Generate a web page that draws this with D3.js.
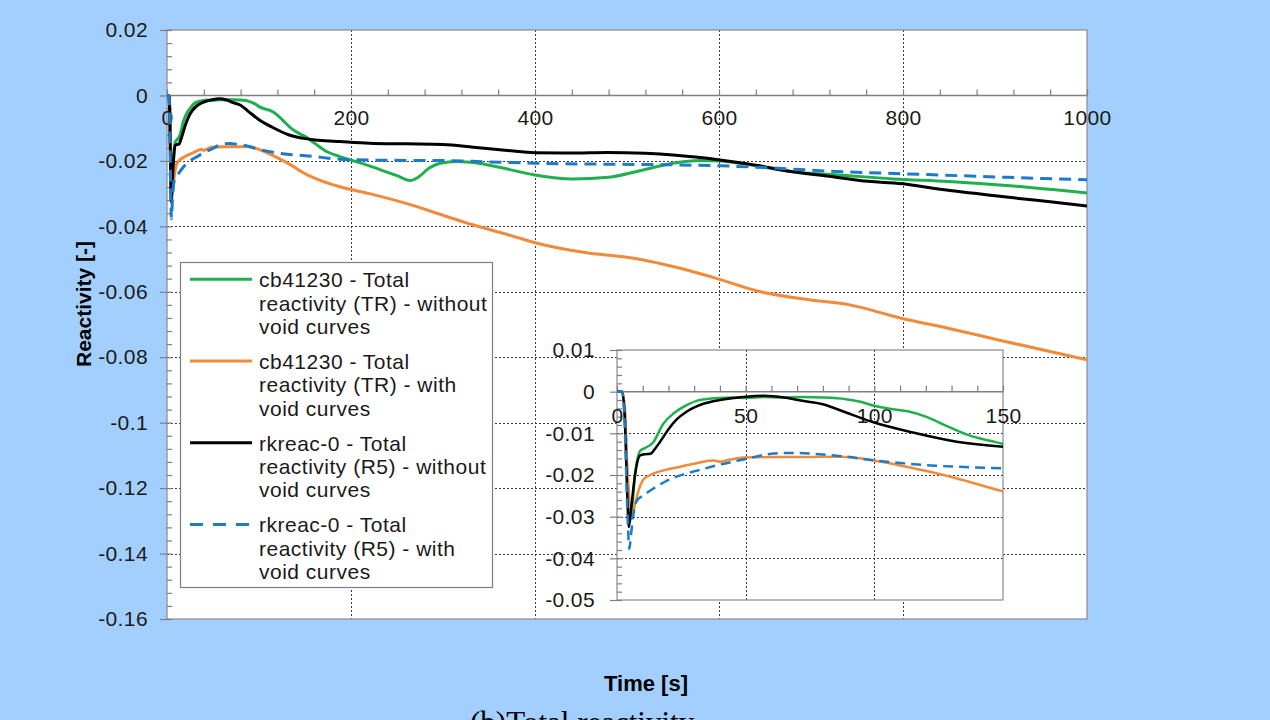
<!DOCTYPE html>
<html>
<head>
<meta charset="utf-8">
<script src="https://cdn.jsdelivr.net/npm/d3@7/dist/d3.min.js"></script>
<style>
  body { margin: 0; background: #a3cffe; }
  svg { display: block; font-family: "Liberation Sans", Arial, sans-serif; }
  .axis path { display: none; }
  .axis line { stroke: #7f7f7f; stroke-width: 1.2; }
  .axis text { fill: #1a1a1a; font-size: 21px; letter-spacing: 0.4px; }
</style>
</head>
<body>
<svg id="chart" width="1270" height="720"></svg>
<script>
// ---- data (time [s], reactivity [-]) ----
const seriesNames = [
  "cb41230 - Total reactivity (TR) - without void curves",
  "cb41230 - Total reactivity (TR) - with void curves",
  "rkreac-0 - Total reactivity (R5) - without void curves",
  "rkreac-0 - Total reactivity (R5) - with void curves"
];
const legendLines = [
  ["cb41230 - Total", "reactivity (TR) - without", "void curves"],
  ["cb41230 - Total", "reactivity (TR) - with", "void curves"],
  ["rkreac-0 - Total", "reactivity (R5) - without", "void curves"],
  ["rkreac-0 - Total", "reactivity (R5) - with", "void curves"]
];

const trWithout = [
  [0,0],[2,0],[3,-0.004],[4,-0.02],[5,-0.031],[6,-0.027],[7,-0.02],[9,-0.0142],[11,-0.0135],
  [14,-0.0122],[18,-0.0077],[22,-0.0052],[26,-0.0036],[31,-0.0022],[38,-0.0016],[45,-0.0014],
  [50,-0.0015],[57,-0.0013],[64,-0.0014],[72,-0.0013],[80,-0.0014],[89,-0.0018],[95,-0.0025],
  [100,-0.0034],[107,-0.0042],[113,-0.0047],[120,-0.006],[128,-0.0082],[136,-0.0103],[145,-0.0118],
  [150,-0.0125],[160,-0.0145],[174,-0.0172],[188,-0.0187],[200,-0.0198],[210,-0.0206],[230,-0.0225],
  [250,-0.0245],[264,-0.026],[273,-0.0250],[285,-0.0222],[297,-0.0207],[315,-0.0202],[340,-0.0208],
  [370,-0.0225],[400,-0.0243],[441,-0.0255],[480,-0.025],[514,-0.023],[550,-0.0207],[579,-0.0199],
  [601,-0.02],[640,-0.0215],[680,-0.0233],[730,-0.0243],[789,-0.0255],[850,-0.0263],[920,-0.0277],
  [1000,-0.0298]
];
const trWith = [
  [0,0],[2,0],[3,-0.004],[4,-0.018],[5,-0.027],[5.8,-0.03],[7,-0.027],[8.5,-0.0235],[10,-0.0213],
  [12,-0.0203],[14,-0.0197],[18,-0.0189],[24.6,-0.018],[30,-0.0173],[37,-0.0165],[38.5,-0.0166],
  [40,-0.0168],[44,-0.0163],[49,-0.0158],[60,-0.0157],[70,-0.0157],[87,-0.0156],[100,-0.0165],
  [110,-0.0177],[122,-0.0193],[135,-0.0213],[150,-0.0239],[165,-0.0258],[188,-0.0279],[220,-0.03],
  [260,-0.033],[300,-0.0366],[333,-0.0396],[370,-0.0425],[400,-0.045],[427,-0.0467],[460,-0.0482],
  [496,-0.0493],[518,-0.0503],[550,-0.0523],[597,-0.0559],[645,-0.06],[700,-0.0625],[742,-0.064],
  [797,-0.068],[850,-0.0712],[905,-0.0748],[1000,-0.0808]
];
const r5Without = [
  [0,0],[2,0],[3,-0.006],[4,-0.025],[4.6,-0.0325],[5.5,-0.028],[7,-0.02],[9,-0.0153],[11,-0.015],
  [13,-0.0149],[15,-0.0135],[17,-0.0118],[20,-0.009],[23.3,-0.0066],[27,-0.0048],[33.6,-0.0029],
  [40,-0.002],[49,-0.0013],[57,-0.001],[65,-0.0014],[72,-0.0022],[80,-0.003],[89,-0.005],
  [100,-0.0074],[115,-0.0098],[132,-0.012],[150,-0.0132],[165,-0.0137],[188,-0.0141],[220,-0.0146],
  [260,-0.0148],[300,-0.015],[333,-0.0158],[370,-0.0168],[400,-0.0175],[440,-0.0176],[478,-0.0174],
  [520,-0.0177],[550,-0.0182],[601,-0.0197],[640,-0.0213],[680,-0.0233],[720,-0.0247],[753,-0.026],
  [800,-0.027],[840,-0.0287],[880,-0.03],[920,-0.0313],[960,-0.0325],[1000,-0.0338]
];
const r5With = [
  [0,0],[2,0],[3,-0.008],[4,-0.028],[4.8,-0.0377],[5.5,-0.034],[6.5,-0.029],[7.8,-0.0261],[10,-0.025],
  [14,-0.0233],[19,-0.0215],[24.6,-0.0201],[32,-0.0188],[40,-0.0175],[49,-0.0163],[60,-0.0149],
  [68,-0.0147],[76,-0.0149],[89,-0.0156],[100,-0.0165],[110,-0.0171],[122,-0.0177],[135,-0.0181],
  [150,-0.0184],[170,-0.019],[188,-0.0195],[230,-0.0198],[297,-0.0199],[350,-0.0203],[400,-0.0207],
  [470,-0.021],[550,-0.0212],[601,-0.0215],[660,-0.0222],[717,-0.0231],[818,-0.0241],[900,-0.0249],
  [1000,-0.0258]
];

// tick labels
const mainXTicks = [0, 200, 400, 600, 800, 1000];
const mainYTicks = [0.02, 0, -0.02, -0.04, -0.06, -0.08, -0.1, -0.12, -0.14, -0.16];
const mainYLabels = ["0.02", "0", "-0.02", "-0.04", "-0.06", "-0.08", "-0.1", "-0.12", "-0.14", "-0.16"];
const insetXTicks = [0, 50, 100, 150];
const insetYTicks = [0.01, 0, -0.01, -0.02, -0.03, -0.04, -0.05];
const insetYLabels = ["0.01", "0", "-0.01", "-0.02", "-0.03", "-0.04", "-0.05"];

const seriesData = [trWithout, trWith, r5Without, r5With];
const colors = ["#1fb04e", "#f28a3b", "#000000", "#1c7acb"];
const dashes = [null, null, null, "12,7"];

// ---- layout ----
const main = {left: 167, right: 1087, top: 30, bottom: 619};
const ins = {left: 617, right: 1003, top: 350, bottom: 600};

const svg = d3.select("#chart");

const x = d3.scaleLinear().domain([0, 1000]).range([main.left, main.right]);
const y = d3.scaleLinear().domain([-0.16, 0.02]).range([main.bottom, main.top]);
const xi = d3.scaleLinear().domain([0, 150]).range([ins.left, ins.right]);
const yi = d3.scaleLinear().domain([-0.05, 0.01]).range([ins.bottom, ins.top]);

const defs = svg.append("defs");
defs.append("clipPath").attr("id", "clipMain").append("rect")
  .attr("x", main.left).attr("y", main.top)
  .attr("width", main.right - main.left).attr("height", main.bottom - main.top);
defs.append("clipPath").attr("id", "clipIns").append("rect")
  .attr("x", ins.left).attr("y", ins.top)
  .attr("width", ins.right - ins.left).attr("height", ins.bottom - ins.top);

function drawPanel(g, xs, ys, box, opt) {
  g.append("rect")
    .attr("x", box.left).attr("y", box.top)
    .attr("width", box.right - box.left).attr("height", box.bottom - box.top)
    .attr("fill", "#fff");

  // dotted grid
  g.append("g").selectAll("line").data(opt.yGrid).join("line")
    .attr("x1", box.left).attr("x2", box.right)
    .attr("y1", d => Math.round(ys(d)) + 0.5).attr("y2", d => Math.round(ys(d)) + 0.5)
    .attr("stroke", "#3a3a3a").attr("stroke-width", 1).attr("stroke-dasharray", "2,2");
  g.append("g").selectAll("line").data(opt.xGrid).join("line")
    .attr("x1", d => Math.round(xs(d)) + 0.5).attr("x2", d => Math.round(xs(d)) + 0.5)
    .attr("y1", box.top).attr("y2", box.bottom)
    .attr("stroke", "#3a3a3a").attr("stroke-width", 1).attr("stroke-dasharray", "2,2");

  // frame
  g.append("rect")
    .attr("x", box.left).attr("y", box.top)
    .attr("width", box.right - box.left).attr("height", box.bottom - box.top)
    .attr("fill", "none").attr("stroke", "#8a8a8a").attr("stroke-width", 1.2);

  // y axis: major ticks out with labels, minor ticks in
  g.append("g").attr("class", "axis")
    .attr("transform", `translate(${box.left},0)`)
    .call(d3.axisLeft(ys).tickValues(opt.yTicks).tickSize(7).tickPadding(opt.yPad)
      .tickFormat((d, i) => opt.yLabels[i]));
  g.append("g").attr("class", "axis")
    .attr("transform", `translate(${box.left},0)`)
    .call(d3.axisRight(ys).tickValues(opt.yMinor).tickSize(5).tickFormat(""));

  // zero line with ticks pointing up, labels below
  g.append("line")
    .attr("x1", box.left).attr("x2", box.right)
    .attr("y1", ys(0)).attr("y2", ys(0))
    .attr("stroke", "#7f7f7f").attr("stroke-width", 1.5);
  g.append("g").attr("class", "axis")
    .attr("transform", `translate(0,${ys(0)})`)
    .call(d3.axisTop(xs).tickValues(opt.xMinor).tickSize(6).tickFormat(""));
  g.append("g").attr("class", "axis")
    .attr("transform", `translate(0,${ys(0)})`)
    .call(d3.axisBottom(xs).tickValues(opt.xTicks).tickSize(0).tickPadding(opt.xPad)
      .tickFormat(d3.format("d")));

  const line = d3.line().x(d => xs(d[0])).y(d => ys(d[1])).curve(d3.curveMonotoneX);
  g.append("g").attr("clip-path", `url(#${opt.clip})`)
    .selectAll("path").data(seriesData).join("path")
    .attr("d", d => line(d))
    .attr("fill", "none")
    .attr("stroke", (d, i) => colors[i])
    .attr("stroke-width", opt.lw)
    .attr("stroke-linejoin", "round")
    .attr("stroke-dasharray", (d, i) => dashes[i] ? opt.dash : null);
}

drawPanel(svg.append("g"), x, y, main, {
  yGrid: [-0.02, -0.04, -0.06, -0.08, -0.1, -0.12, -0.14],
  xGrid: [200, 400, 600, 800],
  yTicks: mainYTicks, yLabels: mainYLabels,
  yMinor: d3.range(-0.16, 0.0201, 0.004),
  xTicks: mainXTicks, xMinor: d3.range(0, 1001, 40),
  yPad: 12, xPad: 15, lw: 3, dash: "12,7", clip: "clipMain"
});

// axis titles
svg.append("text")
  .attr("transform", "translate(91,304) rotate(-90)")
  .attr("text-anchor", "middle")
  .attr("font-size", 21).attr("font-weight", "bold")
  .text("Reactivity [-]");
svg.append("text")
  .attr("x", 646).attr("y", 691)
  .attr("text-anchor", "middle")
  .attr("font-size", 22).attr("font-weight", "bold")
  .text("Time [s]");

// caption, cut by the bottom edge as in the source figure
svg.append("text")
  .attr("x", 470).attr("y", 733)
  .attr("font-family", "'Liberation Serif', 'Times New Roman', serif")
  .attr("font-size", 31)
  .text("(b)Total reactivity");

// legend
const lg = svg.append("g");
lg.append("rect")
  .attr("x", 180.5).attr("y", 262.5).attr("width", 312).attr("height", 325)
  .attr("fill", "#fff").attr("stroke", "#7f7f7f").attr("stroke-width", 1.2);
const entry = lg.selectAll("g.entry").data(seriesNames).join("g")
  .attr("class", "entry")
  .attr("transform", (d, i) => `translate(0,${279.3 + i * 81.7})`);
entry.append("line")
  .attr("x1", 190).attr("x2", 252).attr("y1", 0).attr("y2", 0)
  .attr("stroke", (d, i) => colors[i]).attr("stroke-width", 3)
  .attr("stroke-dasharray", (d, i) => dashes[i] ? "13,10" : null);
entry.append("text")
  .attr("font-size", 21).attr("fill", "#1a1a1a").attr("letter-spacing", 0.5)
  .selectAll("tspan").data((d, i) => legendLines[i]).join("tspan")
  .attr("x", 259).attr("y", (d, k) => 8 + k * 23.3)
  .text(d => d);

// inset
drawPanel(svg.append("g"), xi, yi, ins, {
  yGrid: [-0.01, -0.02, -0.03, -0.04],
  xGrid: [50, 100],
  yTicks: insetYTicks, yLabels: insetYLabels,
  yMinor: d3.range(-0.05, 0.0101, 0.002),
  xTicks: insetXTicks, xMinor: d3.range(0, 151, 10),
  yPad: 15, xPad: 16, lw: 2.5, dash: "10,6", clip: "clipIns"
});
</script>
</body>
</html>
